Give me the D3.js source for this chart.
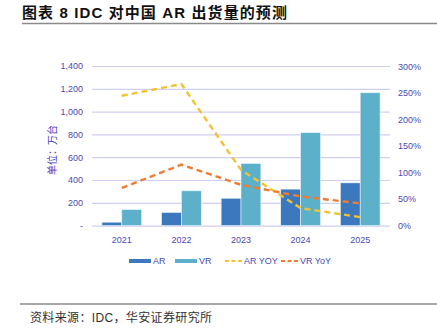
<!DOCTYPE html>
<html>
<head>
<meta charset="utf-8">
<script src="https://cdn.jsdelivr.net/npm/d3@7"></script>
<style>
  body { margin: 0; background: #fff; }
  svg text { font-family: "Liberation Sans", "Noto Sans CJK SC", sans-serif; }
</style>
</head>
<body>
<svg id="chart" width="437" height="330"></svg>
<script>
// IDC forecast of AR / VR shipments in China

var years = ["2021", "2022", "2023", "2024", "2025"];
var arShip = [30, 115, 240, 320, 375];      // 万台
var vrShip = [140, 305, 545, 815, 1165];    // 万台
var arYoy = [2.45, 2.67, 1.05, 0.33, 0.16];
var vrYoy = [0.71, 1.15, 0.77, 0.55, 0.42];
var leftTicks = [0, 200, 400, 600, 800, 1000, 1200, 1400];
var rightTicks = [0, 0.5, 1, 1.5, 2, 2.5, 3];

var svg = d3.select("#chart");
var axisColor = "#4a4ab0";
var cjk = "\"Noto Sans CJK SC\", sans-serif";

// plot box (window.top is reserved, so no bare "top" here)
var plotLeft = 92, plotRight = 390, plotTop = 66, plotBottom = 225.6;

var x = d3.scaleBand().domain(years).range([plotLeft, plotRight]);
var y = d3.scaleLinear().domain([0, 1400]).range([plotBottom, plotTop]);
var y2 = d3.scaleLinear().domain([0, 3]).range([plotBottom, plotTop + 0.6]);

///////////////////////////////////////////////////////////////////////////////
// Title and source

svg.append("text")
  .attr("x", 22).attr("y", 18)
  .style("font-family", "\"Liberation Sans\", \"Noto Sans CJK SC\", sans-serif")
  .style("font-weight", "bold")
  .style("font-size", "15px")
  .attr("textLength", 265)
  .attr("lengthAdjust", "spacing")
  .attr("fill", "#111")
  .text("图表 8 IDC 对中国 AR 出货量的预测");

svg.append("line")
  .attr("x1", 22).attr("x2", 437).attr("y1", 23.5).attr("y2", 23.5)
  .attr("stroke", "#8a8a8a").attr("stroke-width", 1.5);

svg.append("line")
  .attr("x1", 20).attr("x2", 437).attr("y1", 304).attr("y2", 304)
  .attr("stroke", "#8a8a8a").attr("stroke-width", 1.5);

svg.append("text")
  .attr("x", 30).attr("y", 322)
  .style("font-size", "12px")
  .attr("textLength", 182)
  .attr("lengthAdjust", "spacing")
  .attr("fill", "#333")
  .text("资料来源：IDC，华安证券研究所");

///////////////////////////////////////////////////////////////////////////////
// Axes

var gridAxis = d3.axisLeft(y).tickValues(leftTicks)
  .tickSize(-(plotRight - plotLeft))
  .tickFormat(function (d) { return d === 0 ? "-" : d3.format(",")(d); });

var gl = svg.append("g")
  .attr("transform", "translate(" + plotLeft + ",0)")
  .call(gridAxis);
gl.select(".domain").remove();
gl.selectAll(".tick line").attr("stroke", "#cfcff2").attr("stroke-width", 1.2);
gl.selectAll(".tick text")
  .attr("x", -9)
  .attr("fill", axisColor)
  .style("font-size", "9px");

var gr = svg.append("g")
  .attr("transform", "translate(" + (plotRight + 6) + ",0)")
  .call(d3.axisRight(y2).tickValues(rightTicks).tickSize(0).tickFormat(d3.format(".0%")));
gr.select(".domain").remove();
gr.selectAll(".tick text")
  .attr("x", 2)
  .attr("fill", axisColor)
  .style("font-size", "9px");

var gx = svg.append("g")
  .attr("transform", "translate(0," + plotBottom + ")")
  .call(d3.axisBottom(x).tickSize(0));
gx.select(".domain").remove();
gx.selectAll(".tick text")
  .attr("dy", 0)
  .attr("y", 17)
  .attr("fill", axisColor)
  .style("font-size", "9px");

svg.append("text")
  .attr("transform", "translate(56,150) rotate(-90)")
  .attr("text-anchor", "middle")
  .style("font-family", cjk)
  .style("font-size", "10px")
  .attr("fill", "#3f3fc0")
  .text("单位：万台");

///////////////////////////////////////////////////////////////////////////////
// Bars

var inner = d3.scaleBand().domain(["AR", "VR"])
  .range([0, x.bandwidth()]).paddingOuter(0.5).paddingInner(0);

var series = [
  { key: "AR", values: arShip, color: "#3c78bd" },
  { key: "VR", values: vrShip, color: "#5cb0c9" }
];

series.forEach(function (s) {
  svg.append("g").selectAll("rect")
    .data(years)
    .enter().append("rect")
    .attr("x", function (d) { return x(d) + inner(s.key); })
    .attr("width", inner.bandwidth())
    .attr("y", function (d, i) { return y(s.values[i]); })
    .attr("height", function (d, i) { return plotBottom - y(s.values[i]); })
    .attr("fill", s.color)
    .attr("stroke", "#e8f4f8")
    .attr("stroke-width", 0.6);
});

///////////////////////////////////////////////////////////////////////////////
// YoY lines

var lines = [
  { key: "AR YOY", values: arYoy, color: "#f2c233" },
  { key: "VR YoY", values: vrYoy, color: "#ee7c35" }
];

var lineGen = d3.line()
  .x(function (d, i) { return x(years[i]) + x.bandwidth() / 2; })
  .y(function (d) { return y2(d); });

lines.forEach(function (l) {
  svg.append("path")
    .datum(l.values)
    .attr("d", lineGen)
    .attr("fill", "none")
    .attr("stroke", l.color)
    .attr("stroke-width", 2.4)
    .attr("stroke-dasharray", "6,4");
});

///////////////////////////////////////////////////////////////////////////////
// Legend

var legend = svg.append("g").attr("transform", "translate(0,261)");
var items = [
  { label: "AR", color: "#3c78bd", x: 129, dash: false },
  { label: "VR", color: "#5cb0c9", x: 175, dash: false },
  { label: "AR YOY", color: "#f2c233", x: 225, dash: true },
  { label: "VR YoY", color: "#ee7c35", x: 281, dash: true }
];

items.forEach(function (it) {
  if (it.dash)
    legend.append("line")
      .attr("x1", it.x).attr("x2", it.x + 17).attr("y1", 0).attr("y2", 0)
      .attr("stroke", it.color).attr("stroke-width", 2)
      .attr("stroke-dasharray", "4,2.5");
  else
    legend.append("rect")
      .attr("x", it.x).attr("y", -2).attr("width", 22).attr("height", 4)
      .attr("fill", it.color);
  legend.append("text")
    .attr("x", it.x + (it.dash ? 19 : 24)).attr("y", 3.2)
    .attr("fill", axisColor)
    .style("font-size", "9px")
    .text(it.label);
});
</script>
</body>
</html>
